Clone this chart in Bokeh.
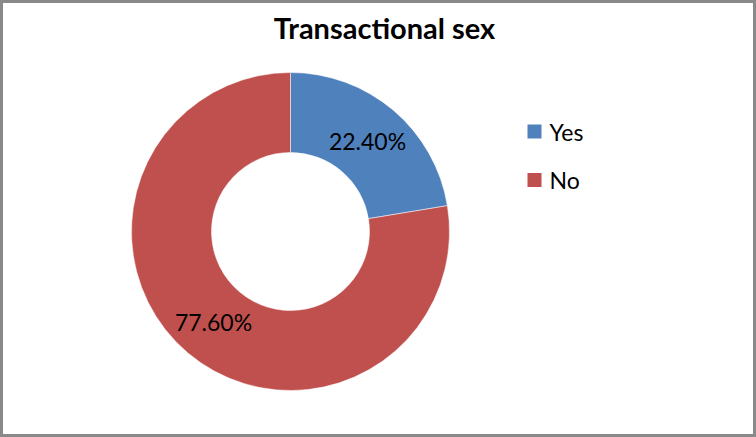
import math
from bokeh.plotting import figure
from bokeh.models import Range1d, ColumnDataSource
from bokeh.core.properties import value
from bokeh.embed import file_html
from bokeh.resources import INLINE

# ---- data ----
title = "Transactional sex"
categories = ["Yes", "No"]
shares = [22.40, 77.60]
colors = ["#4F81BD", "#C0504D"]

W, H = 756, 437
FONT = "Lato"

# ---- geometry (layout) ----
cx, cy = 290, H - 231
r_out, r_in = 159, 79

total = sum(shares)
starts, ends, mids = [], [], []
acc = 0.0
for s in shares:
    a0 = math.pi / 2 - 2 * math.pi * acc / total
    acc += s
    a1 = math.pi / 2 - 2 * math.pi * acc / total
    starts.append(a1)
    ends.append(a0)
    mids.append((a0 + a1) / 2)

r_lab = (r_out + r_in) / 2
src = ColumnDataSource(dict(
    cat=categories,
    share=shares,
    color=colors,
    start=starts,
    end=ends,
    lx=[cx + r_lab * math.cos(m) for m in mids],
    ly=[cy + r_lab * math.sin(m) for m in mids],
    lab=[f"{v:.2f}%" for v in shares],
    kx=[534] * len(categories),
    ky=[H - 131 - 48.5 * i for i in range(len(categories))],
    tx=[549] * len(categories),
))

p = figure(width=W, height=H, output_backend="svg", toolbar_location=None,
           x_range=Range1d(0, W), y_range=Range1d(0, H), min_border=0)
p.axis.visible = False
p.grid.visible = False
p.outline_line_color = "#898989"
p.outline_line_width = 5
p.background_fill_color = "white"
p.border_fill_color = "white"

p.annular_wedge(x=cx, y=cy, inner_radius=r_in, outer_radius=r_out,
                start_angle="start", end_angle="end", fill_color="color",
                line_color="white", line_width=0.5, source=src)

p.text(x="lx", y="ly", text="lab", source=src, text_align="center",
       text_baseline="middle", text_font=value(FONT), text_font_size="23px",
       text_color="black")

# legend
p.scatter(x="kx", y="ky", marker="square", size=14, fill_color="color",
          line_color=None, source=src)
p.text(x="tx", y="ky", text="cat", source=src, text_align="left",
       text_baseline="middle", text_font=value(FONT), text_font_size="23px",
       text_color="black")

# title
p.text(x=[384], y=[H - 27], text=[title], text_align="center",
       text_baseline="middle", text_font=value(FONT), text_font_size="29px",
       text_font_style="bold", text_color="black")

open("out.html", "w").write(file_html(p, INLINE))
